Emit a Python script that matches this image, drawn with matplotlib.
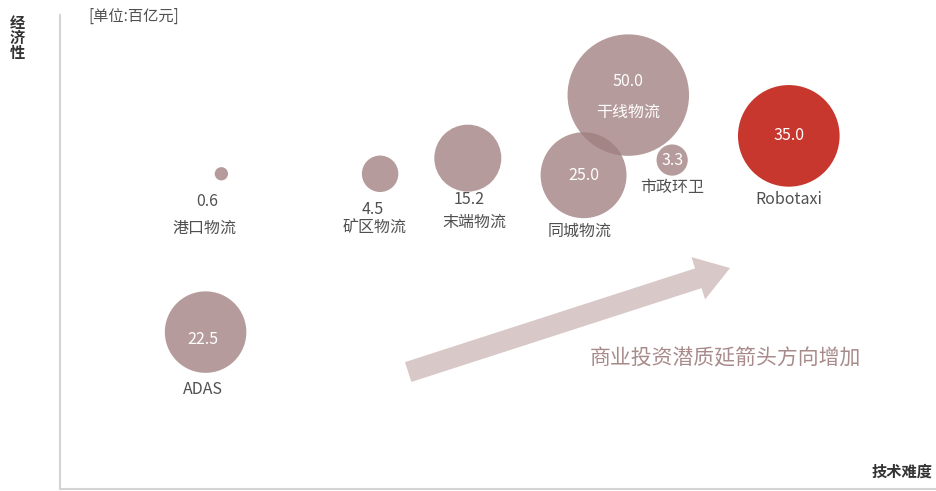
import matplotlib.pyplot as plt

plt.rcParams['font.family'] = ['Noto Sans CJK SC', 'DejaVu Sans']

# 技术难度 / 经济性 (相对位置) 与市场规模（百亿元）
names = ['港口物流', '矿区物流', '末端物流', '同城物流', '干线物流', '市政环卫', 'Robotaxi', 'ADAS']
tech = [18.4, 36.5, 46.5, 59.7, 64.8, 69.8, 83.1, 16.6]
econ = [66.5, 66.5, 69.8, 66.2, 83.1, 69.4, 74.5, 33.1]
size = [0.6, 4.5, 15.2, 25.0, 50.0, 3.3, 35.0, 22.5]

mauve = '#a07f7f'
red = '#c8372d'
grey_txt = '#505050'

fig = plt.figure(figsize=(9.37, 4.91), dpi=100)
ax = fig.add_axes([60 / 937, 2 / 491, 877 / 937, 474 / 491])
ax.set_xlim(0, 100)
ax.set_ylim(0, 100)

colors = [red if n == 'Robotaxi' else mauve for n in names]
alphas = [1.0 if n == 'Robotaxi' else 0.78 for n in names]
for x, y, v, c, a in zip(tech, econ, size, colors, alphas):
    ax.scatter(x, y, s=153 * v, color=c, alpha=a, edgecolors='none', zorder=3)

# label offsets in points: (value dx, value dy, value colour, name dx, name dy)
label_pos = {
    '港口物流': (-10, -20, grey_txt, -12, -39),
    '矿区物流': (-5, -26, grey_txt, -4, -39),
    '末端物流': (1, -30, grey_txt, 5, -46),
    '同城物流': (0, 0, 'white', -3, -40),
    '干线物流': (0, 10, 'white', 0, -12),
    '市政环卫': (0, 0, 'white', 0, -20),
    'Robotaxi': (0, 0, 'white', 0, -46),
    'ADAS': (-2, -5, 'white', -2, -41),
}
for n, x, y, v in zip(names, tech, econ, size):
    vx, vy, vc, nx, ny = label_pos[n]
    ax.annotate(f'{v:.1f}', (x, y), xytext=(vx, vy), textcoords='offset points',
                ha='center', va='center', fontsize=11.5, color=vc, zorder=5)
    nc = 'white' if n == '干线物流' else grey_txt
    ax.annotate(n, (x, y), xytext=(nx, ny), textcoords='offset points',
                ha='center', va='center', fontsize=11.5, color=nc, zorder=5)

# direction arrow
ax.annotate('', xy=(76.7, 46.8), xytext=(39.4, 24.5),
            arrowprops=dict(arrowstyle='simple,head_width=1.6,head_length=1.2,tail_width=0.75',
                            mutation_scale=20, color='#d9c8c8', lw=0), zorder=1)
ax.text(75.9, 27.5, '商业投资潜质延箭头方向增加', ha='center', va='center',
        fontsize=15, color='#a88a8a')

for s in ['top', 'right']:
    ax.spines[s].set_visible(False)
for s in ['left', 'bottom']:
    ax.spines[s].set_color('#d4d4d4')
    ax.spines[s].set_linewidth(1.5)
ax.set_xticks([])
ax.set_yticks([])

fig.text(17 / 937, 1 - 38 / 491, '经\n济\n性', ha='center', va='center',
         fontsize=11, fontweight='bold', color='#333333', linespacing=0.95)
fig.text(933 / 937, 1 - 472 / 491, '技术难度', ha='right', va='center',
         fontsize=11, fontweight='bold', color='#333333')
fig.text(88 / 937, 1 - 16 / 491, '[单位:百亿元]', ha='left', va='center',
         fontsize=11, color=grey_txt)

fig.savefig('out.png', dpi=100)
